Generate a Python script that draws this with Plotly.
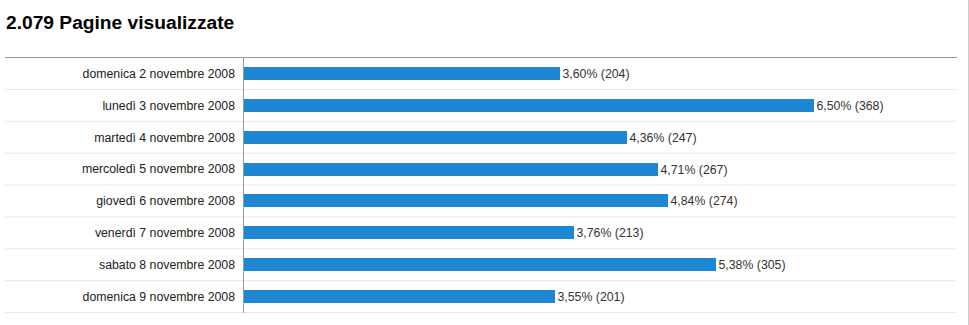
import plotly.graph_objects as go

# Page views per day
days = [
    "domenica 2 novembre 2008",
    "lunedì 3 novembre 2008",
    "martedì 4 novembre 2008",
    "mercoledì 5 novembre 2008",
    "giovedì 6 novembre 2008",
    "venerdì 7 novembre 2008",
    "sabato 8 novembre 2008",
    "domenica 9 novembre 2008",
]
views = [204, 368, 247, 267, 274, 213, 305, 201]
percent = [3.60, 6.50, 4.36, 4.71, 4.84, 3.76, 5.38, 3.55]
total_views = 2079

W, H = 969, 325
plot_left, plot_right = 243.5, 956
plot_top, plot_bottom = 57, 313
px_per_view = 1.549


def fmt_pct(p):
    return f"{p:.2f}".replace(".", ",") + "%"


labels = [f"{fmt_pct(p)} ({v})" for p, v in zip(percent, views)]

fig = go.Figure(
    go.Bar(
        x=views,
        y=days,
        orientation="h",
        marker=dict(color="#1e87d3", line=dict(width=0)),
        width=0.41,
        text=labels,
        textposition="outside",
        constraintext="none",
        textfont=dict(family="Liberation Sans, Arial", size=12.3, color="#333333"),
        cliponaxis=False,
        hoverinfo="skip",
    )
)

shapes = []
# top rule
shapes.append(dict(type="line", xref="paper", yref="y",
                   x0=5 / W, x1=957 / W, y0=-0.5, y1=-0.5,
                   line=dict(color="#999999", width=1)))
# row separators
for k in range(len(days)):
    shapes.append(dict(type="line", xref="paper", yref="y",
                       x0=5 / W, x1=956 / W, y0=k + 0.5, y1=k + 0.5,
                       line=dict(color="#e8e8e8", width=1), layer="below"))
# right page border
shapes.append(dict(type="line", xref="paper", yref="paper",
                   x0=968.5 / W, x1=968.5 / W, y0=0, y1=1,
                   line=dict(color="#cccccc", width=1)))

fig.update_layout(
    width=W,
    height=H,
    margin=dict(l=0, r=0, t=0, b=0),
    paper_bgcolor="white",
    plot_bgcolor="white",
    showlegend=False,
    bargap=0,
    shapes=shapes,
    font=dict(family="Liberation Sans, Arial", size=12, color="#222222"),
    xaxis=dict(
        domain=[plot_left / W, plot_right / W],
        range=[0, (plot_right - plot_left) / px_per_view],
        visible=False,
        fixedrange=True,
    ),
    yaxis=dict(
        domain=[(H - plot_bottom) / H, (H - plot_top) / H],
        autorange="reversed",
        showgrid=False,
        zeroline=False,
        showline=True,
        linecolor="#999999",
        linewidth=1,
        ticks="",
        ticklabelstandoff=5,
        tickfont=dict(family="Liberation Sans, Arial", size=12.3, color="#222222"),
        fixedrange=True,
    ),
    annotations=[
        dict(
            text=f"<b>{total_views:,}".replace(",", ".") + " Pagine visualizzate</b>",
            xref="paper", yref="paper",
            x=4 / W, y=1 - 10 / H,
            xanchor="left", yanchor="top",
            showarrow=False,
            font=dict(family="Liberation Sans, Arial", size=19.2, color="#000000"),
        )
    ],
)

fig.write_html("out.html", config={"displayModeBar": False})
